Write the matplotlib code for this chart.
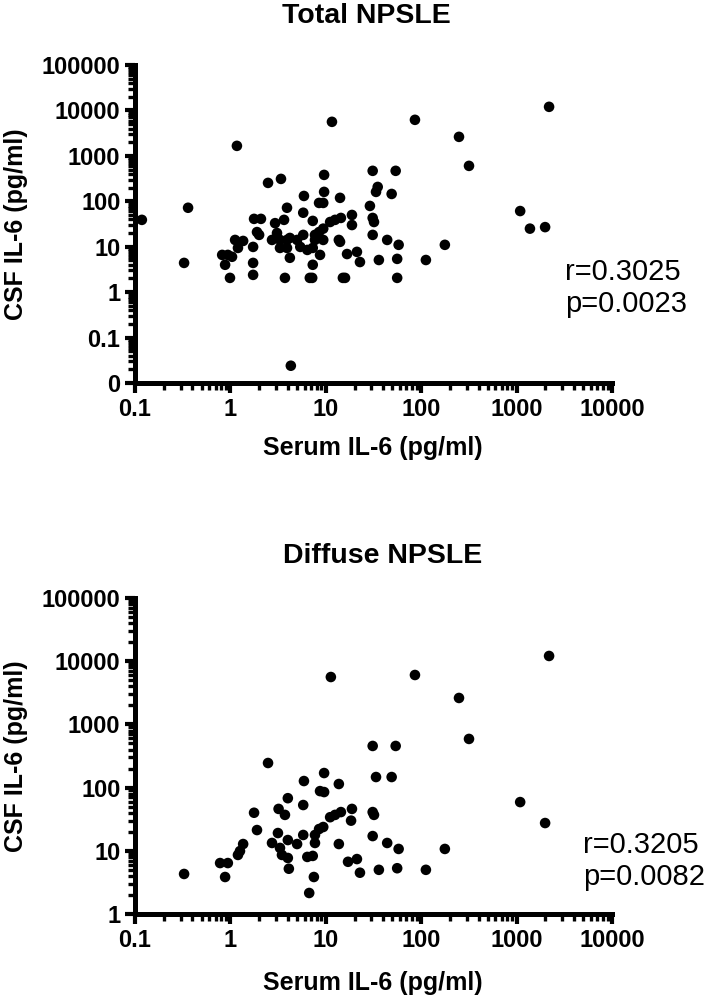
import matplotlib
matplotlib.use("Agg")
import matplotlib.pyplot as plt
from matplotlib.ticker import FixedLocator, FixedFormatter, LogLocator, NullFormatter

plt.rcParams['font.family'] = ['Liberation Sans', 'DejaVu Sans']

# Total NPSLE: serum IL-6 vs CSF IL-6 (pg/ml)
total_serum = [0.118, 0.36, 1.17, 11.6, 86, 2190, 249, 317, 31, 54,
               2.48, 3.39, 9.6, 35, 33.6, 49, 29, 5.9, 9.6, 14.1,
               8.5, 9.4, 3.92, 5.8, 1.77, 2.09, 2.94, 3.65, 7.3, 11.1,
               12.5, 14.4, 18.8, 18.8, 31, 32, 9.4, 8.5, 7.7, 5.8,
               4.2, 5.0, 3.31, 3.92, 2.73, 7.7, 9.4, 13.7, 31, 44,
               58, 1.9, 2.0, 3.08, 1.12, 1.36, 1.2, 1.73, 3.31, 3.92,
               5.4, 6.4, 7.3, 8.7, 4.2, 16.7, 21.2, 22.8, 36, 56,
               112, 177, 7.3, 0.82, 0.94, 1.04, 0.88, 0.327, 1.73, 0.99,
               1.73, 3.73, 6.8, 7.2, 15.1, 15.9, 56, 4.3, 1090, 1380,
               1990, 14.1]
total_csf = [39, 72, 1660, 5610, 6210, 12000, 2620, 602, 468, 468,
             254, 311, 381, 207, 161, 145, 79, 131, 161, 119,
             92, 92, 72, 56, 41, 41, 33, 39, 37, 35,
             39, 43, 50, 30, 43, 35, 25, 21, 18.2, 18.2,
             15.6, 14.1, 14.1, 14.1, 14.1, 14.1, 14.1, 14.1, 18.2, 14.1,
             11, 21, 18.2, 20, 14.1, 13.4, 9.4, 9.9, 9.4, 9.4,
             9.9, 8.5, 9.4, 6.6, 5.7, 6.9, 7.7, 4.6, 5.1, 5.4,
             5.1, 11, 4.0, 6.6, 6.6, 6.0, 4.0, 4.4, 4.4, 2.06,
             2.4, 2.06, 2.06, 2.06, 2.06, 2.06, 2.06, 0.024, 61, 25,
             27, 12.8]

# Diffuse NPSLE
diffuse_serum = [0.327, 0.78, 0.94, 0.88, 1.2, 1.26, 1.36, 1.77, 1.9, 2.48,
                 11.3, 86, 2190, 249, 317, 31, 54, 33.6, 49, 1090,
                 1990, 9.6, 5.9, 8.7, 9.6, 13.7, 4.0, 5.8, 3.2, 3.73,
                 3.15, 4.0, 2.73, 3.31, 3.47, 4.0, 4.1, 11.1, 12.5, 14.4,
                 18.8, 18.4, 31, 32, 9.4, 8.5, 7.7, 5.8, 5.0, 7.7,
                 13.7, 31, 44, 58, 177, 6.4, 7.3, 7.5, 6.7, 17.1,
                 21.2, 22.8, 36, 56, 112]
diffuse_csf = [4.3, 6.4, 6.4, 3.85, 8.6, 9.9, 12.8, 40, 21.3, 245,
               5620, 6050, 12100, 2620, 589, 456, 456, 147, 147, 59,
               27.5, 170, 127, 88, 85, 114, 68, 53, 46, 37,
               19.1, 14.8, 13.3, 11.1, 8.6, 7.7, 5.2, 34, 37, 41,
               46, 30, 41, 37, 23.8, 22.1, 17.8, 17.8, 12.8, 13.3,
               12.8, 17.1, 13.3, 10.7, 10.7, 8.0, 8.3, 3.85, 2.15, 6.7,
               7.4, 4.5, 5.0, 5.3, 5.0]

x_ticks = [0.1, 1, 10, 100, 1000, 10000]
x_labels = ['0.1', '1', '10', '100', '1000', '10000']
top_y_ticks = [0.01, 0.1, 1, 10, 100, 1000, 10000, 100000]
top_y_labels = ['0', '0.1', '1', '10', '100', '1000', '10000', '100000']
bot_y_ticks = [1, 10, 100, 1000, 10000, 100000]
bot_y_labels = ['1', '10', '100', '1000', '10000', '100000']

W, H = 709, 1000
fig = plt.figure(figsize=(7.09, 10), dpi=100)


def make_axes(rect, xs, ys, ylim, yticks, ylabels):
    ax = fig.add_axes(rect)
    ax.scatter(xs, ys, s=58, color='black', edgecolors='none', zorder=3, clip_on=False)
    ax.set_xscale('log')
    ax.set_yscale('log')
    ax.set_xlim(0.1, 10000)
    ax.set_ylim(*ylim)
    for side in ['top', 'right']:
        ax.spines[side].set_visible(False)
    for side in ['left', 'bottom']:
        ax.spines[side].set_linewidth(3.6)
    ax.xaxis.set_major_locator(FixedLocator(x_ticks))
    ax.xaxis.set_major_formatter(FixedFormatter(x_labels))
    ax.yaxis.set_major_locator(FixedLocator(yticks))
    ax.yaxis.set_major_formatter(FixedFormatter(ylabels))
    ax.xaxis.set_minor_locator(LogLocator(base=10, subs=range(2, 10), numticks=20))
    ax.yaxis.set_minor_locator(LogLocator(base=10, subs=range(2, 10), numticks=20))
    ax.xaxis.set_minor_formatter(NullFormatter())
    ax.yaxis.set_minor_formatter(NullFormatter())
    ax.tick_params(which='major', direction='out', length=7.5, width=3, pad=3,
                   labelsize=17)
    ax.tick_params(which='minor', direction='out', length=5, width=2.4)
    for lab in ax.get_xticklabels() + ax.get_yticklabels():
        lab.set_fontweight('bold')
    return ax


ax1 = make_axes([135 / W, 1 - 383 / H, 477 / W, 318 / H], total_serum, total_csf,
                (0.01, 100000), top_y_ticks, top_y_labels)
ax2 = make_axes([135 / W, 1 - 914 / H, 477 / W, 316 / H], diffuse_serum, diffuse_csf,
                (1, 100000), bot_y_ticks, bot_y_labels)

# titles
fig.text(366 / W, 1 - 23 / H, 'Total NPSLE', ha='center', va='baseline',
         fontsize=20.5, fontweight='bold')
fig.text(383 / W, 1 - 563 / H, 'Diffuse NPSLE', ha='center', va='baseline',
         fontsize=20.5, fontweight='bold')

# axis labels
fig.text(373 / W, 1 - 455 / H, 'Serum IL-6 (pg/ml)', ha='center', va='baseline',
         fontsize=18, fontweight='bold')
fig.text(373 / W, 1 - 990 / H, 'Serum IL-6 (pg/ml)', ha='center', va='baseline',
         fontsize=18, fontweight='bold')
fig.text(16 / W, 1 - 224 / H, 'CSF IL-6 (pg/ml)', ha='center', va='center',
         rotation=90, fontsize=18, fontweight='bold')
fig.text(16 / W, 1 - 756 / H, 'CSF IL-6 (pg/ml)', ha='center', va='center',
         rotation=90, fontsize=18, fontweight='bold')

# stats
fig.text(565 / W, 1 - 312 / H, 'r=0.3025\np=0.0023', ha='left', va='baseline',
         fontsize=21, linespacing=1.2)
fig.text(583 / W, 1 - 885 / H, 'r=0.3205\np=0.0082', ha='left', va='baseline',
         fontsize=21, linespacing=1.2)

fig.savefig('out.png', dpi=100)
